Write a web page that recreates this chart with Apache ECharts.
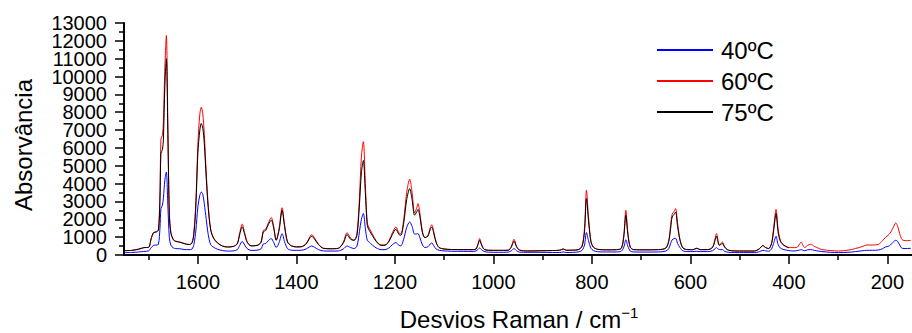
<!DOCTYPE html>
<html><head><meta charset="utf-8">
<script src="https://cdn.jsdelivr.net/npm/echarts@6/dist/echarts.min.js"></script>
<style>html,body{margin:0;padding:0;background:#fff}#chart{width:912px;height:333px}</style>
</head><body><div id="chart"></div>
<script>
// Raman shift (cm-1)
const waveNumbers = [
  1750,1735,1720,1710,1700,1695,1690,1684,1680,1677,
  1675,1672,1670,1667,1664,1661,1658,1655,1650,1645,
  1637,1628,1618,1612,1608,1604,1600,1596,1593,1590,
  1587,1583,1579,1574,1568,1560,1550,1540,1528,1520,
  1515,1510,1505,1500,1492,1480,1472,1467,1462,1457,
  1451,1446,1441,1435,1429,1424,1418,1410,1400,1390,
  1380,1374,1369,1363,1355,1345,1330,1315,1305,1297,
  1290,1283,1277,1272,1268,1264,1260,1256,1252,1246,
  1238,1228,1220,1212,1205,1198,1192,1188,1182,1176,
  1170,1165,1160,1156,1153,1149,1144,1139,1133,1128,
  1125,1121,1116,1110,1100,1085,1060,1040,1035,1031,
  1028,1024,1019,1010,990,970,964,958,953,947,
  930,905,880,865,858,852,840,828,820,815,
  811,807,802,797,788,770,750,740,735,731,
  727,722,715,690,665,650,644,640,637,633,
  630,626,621,615,605,595,587,580,565,555,
  550,547,543,541,538,535,530,522,500,470,
  460,453,447,441,435,431,426,422,417,410,
  400,392,384,378,375,371,368,362,356,348,
  340,333,315,299,280,265,250,242,230,218,
  210,204,197,194,189,183,179,175,170,162,152
];
// 60ºC (red)
const abs60 = [
  245,255,330,410,430,900,1250,1300,1450,3500,
  6500,6700,7500,10500,12300,7500,2500,1300,880,780,
  730,650,590,680,1300,3000,6200,7900,8280,7900,
  6800,4600,2800,1450,950,680,500,450,480,650,
  1250,1730,1250,750,520,540,720,1380,1450,1800,
  2100,1600,850,1500,2650,1700,750,520,460,470,
  650,950,1140,950,600,380,350,380,700,1250,
  950,830,1200,3200,5500,6350,4000,1800,1500,1200,
  800,560,560,800,1250,1570,1250,1180,2000,3500,
  4250,3500,2350,2600,2880,2300,1300,980,1100,1550,
  1700,1300,700,420,340,310,300,300,350,650,
  920,600,330,270,260,270,450,880,500,280,
  230,240,250,270,340,270,270,300,500,1500,
  3630,2200,800,450,320,290,300,400,1200,2500,
  1300,450,300,290,300,400,800,1700,2280,2450,
  2600,1800,850,400,300,300,380,300,300,450,
  900,1200,700,560,650,730,450,263,224,224,
  350,530,420,360,700,1500,2550,1500,800,544,
  420,414,420,620,730,520,414,540,600,480,
  380,303,250,224,270,360,480,561,560,600,
  800,975,1150,1235,1500,1794,1600,1200,863,800,824
];
// 75ºC (black) - spectrum recorded down to 400 cm-1
const abs75 = [
  245,255,330,410,430,900,1250,1300,1400,3000,
  5700,5900,6500,9500,11000,6800,2300,1250,850,760,
  720,640,580,670,1200,2800,5700,7000,7370,7100,
  6250,4300,2650,1400,930,670,500,450,480,620,
  1150,1580,1150,720,510,530,700,1300,1380,1700,
  1950,1500,820,1400,2500,1600,720,510,450,460,
  620,900,1050,880,580,370,350,370,650,1140,
  880,820,1100,2800,4600,5300,3500,1650,1380,1100,
  760,540,550,760,1150,1440,1160,1100,1800,3100,
  3720,3100,2230,2400,2550,2100,1250,970,1050,1450,
  1570,1200,680,414,335,305,300,300,340,600,
  824,560,320,265,260,265,420,770,460,275,
  225,235,250,265,336,265,270,295,480,1300,
  3160,1950,750,440,315,290,295,380,1050,2230,
  1150,430,300,290,300,380,750,1500,2130,2280,
  2410,1600,824,390,300,295,376,300,300,420,
  800,1050,620,544,600,640,420,263,224,224,
  340,527,410,359,650,1350,2320,1300,750,544,
  400,null,null,null,null,null,null,null,null,null,
  null,null,null,null,null,null,null,null,null,null,
  null,null,null,null,null,null,null,null,null,null,null
];
// 40ºC (blue)
const abs40 = [
  135,140,170,200,230,400,540,560,600,1500,
  2600,2800,3200,4200,4650,2800,1000,560,400,360,
  350,310,300,330,600,1400,2700,3350,3530,3400,
  2880,2000,1150,580,430,320,250,220,230,300,
  540,760,560,360,260,270,340,620,650,800,
  920,700,420,700,1200,750,360,270,260,265,
  340,450,505,430,300,230,220,225,330,505,
  420,360,500,1300,2000,2320,1500,820,720,560,
  400,300,300,400,580,695,550,510,900,1550,
  1850,1600,1170,1180,1200,950,560,420,460,620,
  675,520,330,263,230,210,205,200,230,320,
  392,300,200,160,150,160,230,360,240,160,
  150,150,140,140,170,140,145,170,260,560,
  1260,820,380,250,180,170,170,220,450,860,
  500,220,170,165,170,220,350,650,850,920,
  936,650,410,230,190,190,210,190,190,240,
  350,414,320,310,300,303,200,151,135,135,
  180,263,230,210,350,650,1050,600,380,303,
  250,224,240,280,303,260,240,290,303,260,
  220,190,150,135,150,190,240,263,263,280,
  350,450,500,560,700,824,750,560,376,360,376
];
const seriesNames = ['40ºC', '60ºC', '75ºC'];
const seriesColors = ['#0000ff', '#ff0000', '#000000'];
const xTickLabels = [1600, 1400, 1200, 1000, 800, 600, 400, 200];
const xMinorTicks = [1700, 1500, 1300, 1100, 900, 700, 500, 300];
const yTickLabels = [0, 1000, 2000, 3000, 4000, 5000, 6000, 7000, 8000, 9000, 10000, 11000, 12000, 13000];
const yTitle = 'Absorvância';
const xTitle = 'Desvios Raman / cm';
const xTitleSup = '−1';

const FONT = "'Liberation Sans', Arial, sans-serif";
const pair = arr => waveNumbers.map((w, i) => [w, arr[i]]);
const valueSets = [abs40, abs60, abs75];
const gridBox = { left: 124, top: 23, width: 789, height: 232, containLabel: false };
const yLabelsEven = yTickLabels.filter((v, i) => i % 2 === 0);
const yLabelsOdd = yTickLabels.filter((v, i) => i % 2 === 1);
const yLabelStyle = { fontSize: 20, color: '#000', margin: 17, fontFamily: FONT, formatter: v => String(v) };

const chart = echarts.init(document.getElementById('chart'), null, { renderer: 'svg' });
chart.setOption({
  animation: false,
  backgroundColor: '#ffffff',
  textStyle: { fontFamily: FONT },
  grid: [Object.assign({}, gridBox), Object.assign({}, gridBox)],
  legend: {
    orient: 'vertical', left: 657, top: 38, itemWidth: 56, itemHeight: 2, itemGap: 7, padding: 0,
    icon: 'rect',
    textStyle: { fontSize: 24, color: '#000', fontFamily: FONT, padding: [0, 0, 0, 3] },
    data: seriesNames
  },
  xAxis: [{
    type: 'value', gridIndex: 0, inverse: true, min: 150, max: 1750,
    axisLine: { lineStyle: { color: '#000', width: 2 } },
    axisTick: { customValues: xTickLabels, length: 9, lineStyle: { color: '#000', width: 1.5 } },
    axisLabel: { customValues: xTickLabels, fontSize: 20, color: '#000', margin: 17, fontFamily: FONT,
      formatter: v => String(v) },
    splitLine: { show: false }
  }, {
    type: 'value', gridIndex: 1, inverse: true, min: 150, max: 1750, position: 'bottom',
    axisLine: { show: false },
    axisTick: { customValues: xMinorTicks, length: 5, lineStyle: { color: '#000', width: 1.5 } },
    axisLabel: { show: false },
    splitLine: { show: false }
  }],
  yAxis: [{
    type: 'value', gridIndex: 0, min: 0, max: 13000, interval: 1000,
    axisLine: { show: true, lineStyle: { color: '#000', width: 2 } },
    axisTick: { show: true, length: 9, lineStyle: { color: '#000', width: 1.5 } },
    minorTick: { show: true, splitNumber: 2, length: 5, lineStyle: { color: '#000', width: 1.5 } },
    axisLabel: Object.assign({ customValues: yLabelsEven }, yLabelStyle),
    splitLine: { show: false }
  }, {
    type: 'value', gridIndex: 1, min: 0, max: 13000, interval: 1000,
    axisLine: { show: false }, axisTick: { show: false },
    axisLabel: Object.assign({ customValues: yLabelsOdd }, yLabelStyle),
    splitLine: { show: false }
  }],
  graphic: [
    { type: 'text', x: 23, y: 145, rotation: Math.PI / 2,
      style: { text: yTitle, fill: '#000', font: '24px ' + FONT, align: 'center', verticalAlign: 'middle', textAlign: 'center', textVerticalAlign: 'middle' } },
    { type: 'text', x: 519, y: 319,
      style: { text: '{a|' + xTitle + '}{s|' + xTitleSup + '}', fill: '#000', align: 'center', verticalAlign: 'middle', textAlign: 'center', textVerticalAlign: 'middle',
        rich: { a: { fontSize: 24, fontFamily: FONT, lineHeight: 28 }, s: { fontSize: 15, fontFamily: FONT, lineHeight: 15, verticalAlign: 'top' } } } }
  ],
  series: seriesNames.map((name, i) => ({
    name, type: 'line', xAxisIndex: 0, yAxisIndex: 0, data: pair(valueSets[i]),
    symbol: 'none', showSymbol: false, smooth: 0.3, connectNulls: false,
    lineStyle: { color: seriesColors[i], width: 1 }, itemStyle: { color: seriesColors[i] }
  }))
});
</script></body></html>
